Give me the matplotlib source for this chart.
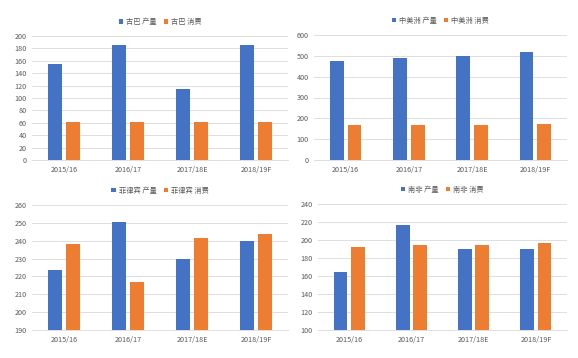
import numpy as np
import matplotlib.pyplot as plt

plt.rcParams['font.family'] = ['Noto Sans CJK SC', 'DejaVu Sans']

categories = ["2015/16", "2016/17", "2017/18E", "2018/19F"]

cuba_prod = [155, 185, 115, 185]
cuba_cons = [62, 62, 62, 62]
cam_prod = [473, 488, 498, 518]
cam_cons = [170, 170, 170, 172]
phil_prod = [223.5, 250.5, 230, 240]
phil_cons = [238, 217, 241.5, 243.5]
sa_prod = [165, 217, 190, 190]
sa_cons = [192, 194, 195, 197]

panels = [
    ("古巴 产量", "古巴 消费", cuba_prod, cuba_cons, (0, 200, 20)),
    ("中美洲 产量", "中美洲 消费", cam_prod, cam_cons, (0, 600, 100)),
    ("菲律宾 产量", "菲律宾 消费", phil_prod, phil_cons, (190, 260, 10)),
    ("南非 产量", "南非 消费", sa_prod, sa_cons, (100, 240, 20)),
]

W, H = 578, 358
# plot boxes in pixels: left, right, top, bottom
boxes = [(32, 288, 36, 160), (314, 567, 35, 160),
         (32, 288, 205, 330), (318, 567, 204, 330)]

blue = "#4472C4"
orange = "#ED7D31"
fs = 5.2

fig = plt.figure(figsize=(W / 100, H / 100), dpi=100)
fig.patch.set_facecolor("white")

x = np.arange(len(categories))
bw = 0.22
for (lp, lc, prod, cons, (lo, hi, step)), (l, r, t, b) in zip(panels, boxes):
    ax = fig.add_axes([l / W, 1 - b / H, (r - l) / W, (b - t) / H])
    ax.bar(x - bw / 2 - 0.03, np.array(prod) - lo, bw, bottom=lo, color=blue, label=lp, zorder=3)
    ax.bar(x + bw / 2 + 0.03, np.array(cons) - lo, bw, bottom=lo, color=orange, label=lc, zorder=3)
    ax.set_xlim(-0.5, len(categories) - 0.5)
    ax.set_ylim(lo, hi)
    ax.set_yticks(np.arange(lo, hi + step / 2, step))
    ax.set_xticks(x)
    ax.set_xticklabels(categories)
    ax.yaxis.grid(True, color="#D9D9D9", linewidth=0.6, zorder=0)
    for s in ["top", "right", "left"]:
        ax.spines[s].set_visible(False)
    ax.spines["bottom"].set_color("#D9D9D9")
    ax.spines["bottom"].set_linewidth(0.6)
    ax.tick_params(length=0, labelsize=fs, colors="#595959", pad=4)
    ax.legend(loc="lower center", bbox_to_anchor=(0.5, 1.03), ncol=2, frameon=False,
              fontsize=fs, handlelength=0.6, handleheight=0.6, handletextpad=0.4,
              columnspacing=1.0, labelcolor="#595959")

fig.savefig("out.png", dpi=100, facecolor="white")
